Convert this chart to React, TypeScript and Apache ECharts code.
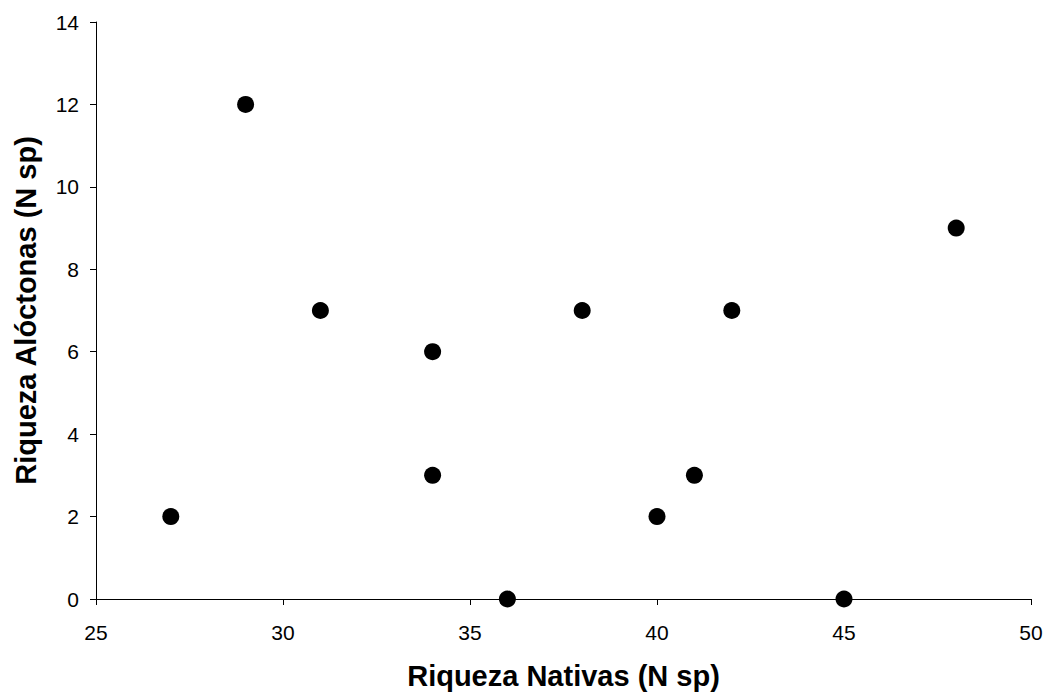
import React, { useEffect, useRef } from "react";
import * as echarts from "echarts";

const nativas = [27, 29, 31, 34, 34, 36, 38, 40, 41, 42, 45, 48];
const aloctonas = [2, 12, 7, 6, 3, 0, 7, 2, 3, 7, 0, 9];
const xTitle = "Riqueza Nativas (N sp)";
const yTitle = "Riqueza Alóctonas (N sp)";

export default function App() {
  const ref = useRef<HTMLDivElement>(null);
  useEffect(() => {
    const chart = echarts.init(ref.current!, null, { renderer: "svg" });
    const font = "'Liberation Sans', Arial, sans-serif";
    chart.setOption({
      animation: false,
      backgroundColor: "#ffffff",
      grid: {
        left: 96,
        top: 22,
        right: 24,
        bottom: 100,
        containLabel: false,
        outerBoundsMode: "none",
      },
      xAxis: {
        type: "value",
        min: 25,
        max: 50,
        interval: 5,
        name: xTitle,
        nameLocation: "middle",
        nameGap: 62,
        nameTextStyle: { fontFamily: font, fontSize: 29, fontWeight: "bold", color: "#000" },
        axisLine: { show: true, lineStyle: { color: "#000", width: 1 } },
        axisTick: { show: true, length: 6, inside: false, lineStyle: { color: "#000" } },
        axisLabel: { fontFamily: font, fontSize: 21, color: "#000", margin: 23 },
        splitLine: { show: false },
      },
      yAxis: {
        type: "value",
        min: 0,
        max: 14,
        interval: 2,
        name: yTitle,
        nameLocation: "middle",
        nameGap: 56,
        nameRotate: 90,
        nameTextStyle: { fontFamily: font, fontSize: 29, fontWeight: "bold", color: "#000" },
        axisLine: { show: true, lineStyle: { color: "#000", width: 1 } },
        axisTick: { show: true, length: 6, inside: false, lineStyle: { color: "#000" } },
        axisLabel: { fontFamily: font, fontSize: 21, color: "#000", margin: 17 },
        splitLine: { show: false },
      },
      series: [
        {
          type: "scatter",
          symbol: "circle",
          symbolSize: 17,
          itemStyle: { color: "#000", opacity: 1 },
          data: nativas.map((x, i) => [x, aloctonas[i]]),
        },
      ],
    });
    return () => chart.dispose();
  }, []);
  return (
    <div
      ref={ref}
      style={{ position: "absolute", left: 0, top: 0, width: 1055, height: 699 }}
    />
  );
}
